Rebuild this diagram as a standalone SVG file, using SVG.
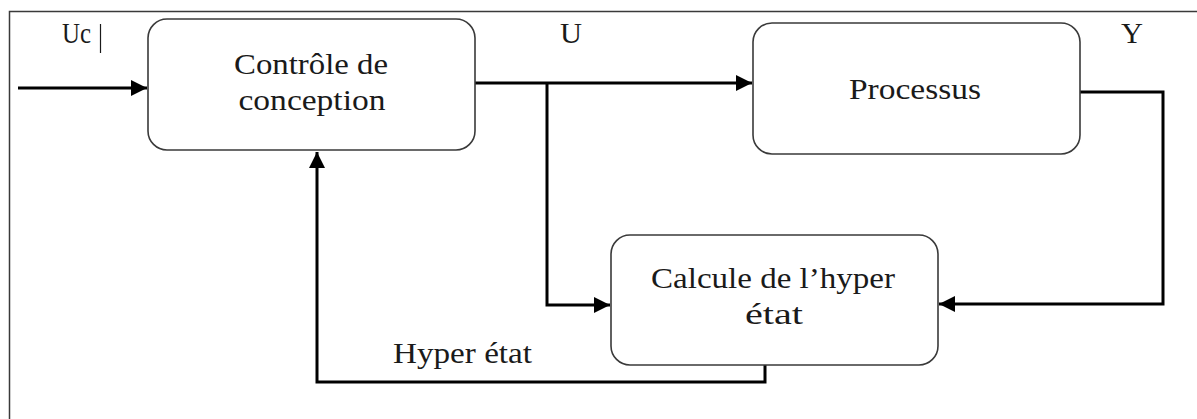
<svg xmlns="http://www.w3.org/2000/svg" width="1197" height="419" viewBox="0 0 1197 419">
  <style>
    .frame { fill: none; stroke: #3a3a3a; stroke-width: 1.5; }
    .block { fill: #ffffff; stroke: #3a3a3a; stroke-width: 1.6; }
    .wire { fill: none; stroke: #000000; stroke-width: 3; stroke-linejoin: miter; }
    text { font-family: "Liberation Serif", "Times New Roman", serif; font-size: 29px; fill: #1a1a1a; }
    .mid { text-anchor: middle; }
  </style>
  <defs>
    <marker id="arrow" markerUnits="userSpaceOnUse" markerWidth="16" markerHeight="16" refX="16" refY="8" orient="auto">
      <path d="M0,0 L16,8 L0,16 z" fill="#000000"/>
    </marker>
  </defs>

  <rect width="1197" height="419" fill="#ffffff"/>

  <!-- outer frame: left and top edges only -->
  <path class="frame" d="M9.5,419 V11.5 H1197"/>

  <!-- signal labels -->
  <text x="62" y="43" textLength="29" lengthAdjust="spacingAndGlyphs">Uc</text>
  <line x1="100.5" y1="24" x2="100.5" y2="53" stroke="#1a1a1a" stroke-width="1.2"/>
  <text x="560" y="43" textLength="22" lengthAdjust="spacingAndGlyphs">U</text>
  <text x="1121" y="43" textLength="22" lengthAdjust="spacingAndGlyphs">Y</text>
  <text x="393" y="363" textLength="139" lengthAdjust="spacingAndGlyphs">Hyper état</text>

  <!-- connectors -->
  <g id="connectors">
    <path class="wire" d="M18,88 H147" marker-end="url(#arrow)"/>
    <path class="wire" d="M475,83 H752" marker-end="url(#arrow)"/>
    <path class="wire" d="M547,83 V305 H610" marker-end="url(#arrow)"/>
    <path class="wire" d="M1080,92 H1163 V304 H939" marker-end="url(#arrow)"/>
    <path class="wire" d="M765,365 V382 H317 V152" marker-end="url(#arrow)"/>
  </g>

  <g id="controle">
    <rect class="block" x="148" y="19" width="327" height="131" rx="19"/>
    <text class="mid" x="311" y="74" textLength="154" lengthAdjust="spacingAndGlyphs">Contrôle de</text>
    <text class="mid" x="312" y="110" textLength="147" lengthAdjust="spacingAndGlyphs">conception</text>
  </g>

  <g id="processus">
    <rect class="block" x="753" y="23" width="327" height="131" rx="19"/>
    <text class="mid" x="915" y="99" textLength="132" lengthAdjust="spacingAndGlyphs">Processus</text>
  </g>

  <g id="hyper-etat">
    <rect class="block" x="611" y="235" width="327" height="130" rx="19"/>
    <text class="mid" x="773" y="288" textLength="244" lengthAdjust="spacingAndGlyphs">Calcule de l’hyper</text>
    <text class="mid" x="774" y="324" textLength="58" lengthAdjust="spacingAndGlyphs">état</text>
  </g>
</svg>
